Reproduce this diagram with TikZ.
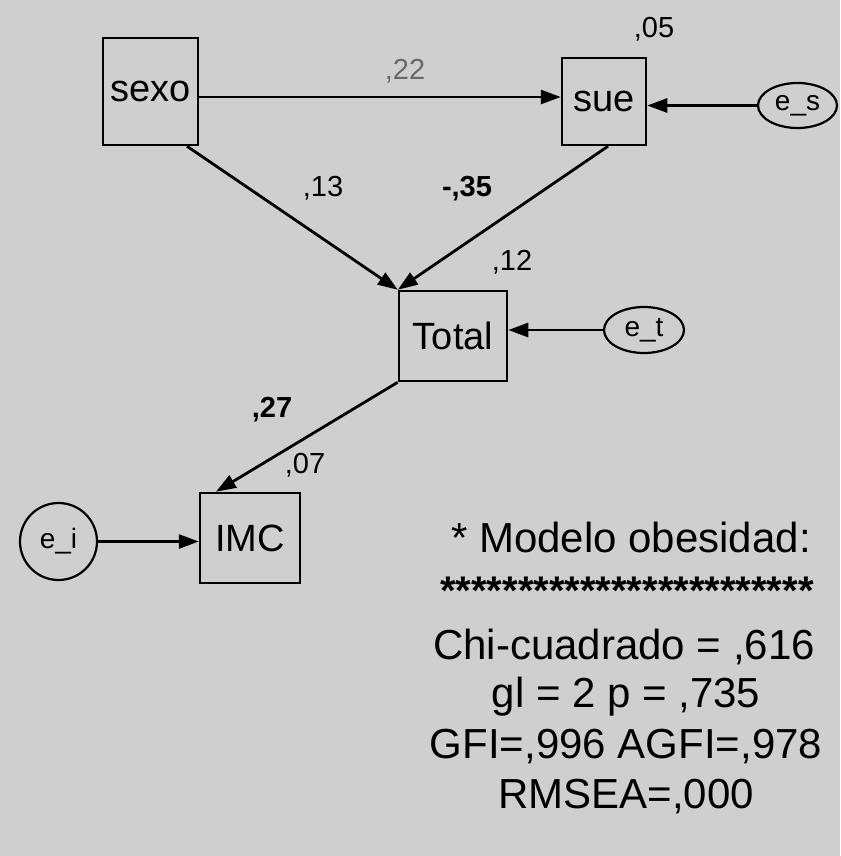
\documentclass[tikz,border=0pt]{standalone}
\usepackage{fontspec}
\setmainfont{Liberation Sans}
\usetikzlibrary{arrows.meta,shapes.geometric}
\definecolor{bgc}{RGB}{207,207,207}
\definecolor{lblgrey}{RGB}{105,105,105}
\tikzset{
  varbox/.style={draw=black,line width=2.5pt,rectangle,inner sep=0pt,
    font=\fontsize{38}{40}\selectfont},
  errell/.style={draw=black,line width=2.2pt,ellipse,inner sep=0pt,
    font=\fontsize{28}{30}\selectfont},
  errcirc/.style={draw=black,line width=2.2pt,circle,inner sep=0pt,
    font=\fontsize{28}{30}\selectfont},
  arr/.style={line width=2.8pt,-{Triangle[length=20pt,width=14pt]}},
  coef/.style={inner sep=0pt,font=\fontsize{29}{31}\selectfont},
  coefb/.style={inner sep=0pt,font=\fontsize{29}{31}\selectfont\bfseries},
  fit/.style={inner sep=0pt,anchor=base,font=\fontsize{42}{44}\selectfont},
}
\begin{document}
\begin{tikzpicture}[x=1pt,y=-1pt]
\useasboundingbox (0,0) rectangle (840,856);
\fill[bgc] (0,0) rectangle (840,856);

% variables
\node[varbox,minimum width=95pt,minimum height=107pt] (sexo) at (150.5,91.5) {sexo};
\node[varbox,minimum width=84pt,minimum height=87pt] (sue) at (604,101.5) {sue};
\node[varbox,minimum width=108pt,minimum height=90pt] (total) at (453,336) {Total};
\node[varbox,minimum width=100pt,minimum height=90pt] (imc) at (250,538) {IMC};

% error terms
\node[errell,minimum width=79pt,minimum height=45pt] (es) at (797.5,105.5) {e\_s};
\node[errell,minimum width=80pt,minimum height=46pt] (et) at (644,330) {e\_t};
\node[errcirc,minimum size=77pt] (ei) at (58.5,541.5) {e\_i};

% helper coordinates
\coordinate (h97) at (0,97);
\coordinate (x187) at (187,0);
\coordinate (x608) at (608,0);
\coordinate (x216) at (216,0);

% paths
\draw[arr] (sexo.east |- h97) -- (sue.west |- h97);
\draw[arr] (es.west) -- (sue.east |- es.west);
\draw[arr] (sexo.south -| x187) -- (total.north west);
\draw[arr] (sue.south -| x608) -- (total.north west);
\draw[arr] (et.west) -- (total.east |- et.west);
\draw[arr] (total.south west) -- (imc.north -| x216);
\draw[arr] (ei.east) -- (imc.west |- ei.east);

% coefficients
\node[coef] (c05) at (654,29) {,05};
\node[coef,text=lblgrey] (c22) at (405,71) {,22};
\node[coef] (c13) at (323,188) {,13};
\node[coefb] (c35) at (467,189) {-,35};
\node[coef] (c12) at (512,262) {,12};
\node[coefb] (c27) at (272,410) {,27};
\node[coef] (c07) at (305,465) {,07};

% fit statistics
\node[fit] (t1) at (631,552) {* Modelo obesidad:};
\node[fit,font=\fontsize{40}{42}\selectfont\bfseries] (t2) at (627,604) {************************};
\node[fit] (t3) at (624,659) {Chi-cuadrado = ,616};
\node[fit] (t4) at (626,707) {gl = 2 p = ,735};
\node[fit] (t5) at (626,758) {GFI=,996 AGFI=,978};
\node[fit] (t6) at (626,808) {RMSEA=,000};
\end{tikzpicture}
\end{document}
